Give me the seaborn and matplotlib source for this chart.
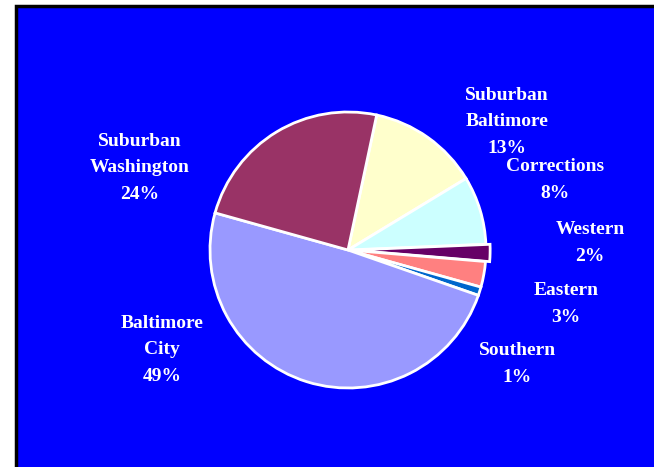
import matplotlib
matplotlib.use("Agg")
import matplotlib.pyplot as plt
import seaborn as sns
from matplotlib.patches import Rectangle

# slices in clockwise order, starting at the top
regions = ["Suburban\nBaltimore", "Corrections", "Western", "Eastern",
           "Southern", "Baltimore\nCity", "Suburban\nWashington"]
shares = [13, 8, 2, 3, 1, 49, 24]
colors = ["#FFFFCC", "#CCFFFF", "#660066", "#FF8080",
          "#0066CC", "#9999FF", "#993366"]
explode = [0, 0, 0.03, 0, 0, 0, 0]

# label centres in pixels (x, y from top)
label_pos = [(507, 122), (555, 180), (590, 243), (566, 304),
             (517, 364), (162, 350), (140, 168)]

sns.set_style("white")
plt.rcParams["font.family"] = ["Liberation Serif", "DejaVu Serif"]

W, H = 654, 467
fig = plt.figure(figsize=(W / 100, H / 100), dpi=100)
fig.patch.set_facecolor("white")

# blue chart area with a black frame
fig.patches.append(Rectangle((16 / W, -0.01), 1.0, 1 - 6 / H + 0.01,
                             transform=fig.transFigure, facecolor="#0000FF",
                             edgecolor="black", linewidth=2.5, zorder=-5))

cx, cy, r = 348, 250, 138
ax = fig.add_axes([(cx - r) / W, (H - cy - r) / H, 2 * r / W, 2 * r / H])
wedges, _ = ax.pie(shares, colors=colors, explode=explode, startangle=78,
                   counterclock=False,
                   wedgeprops={"edgecolor": "white", "linewidth": 2})
for w in wedges:
    w.set_clip_on(False)
ax.set_xlim(-1, 1)
ax.set_ylim(-1, 1)
ax.set_aspect("auto")
ax.axis("off")

for name, val, (px, py) in zip(regions, shares, label_pos):
    fig.text(px / W, 1 - py / H, f"{name}\n{val}%", color="white",
             fontsize=14, fontweight="bold", ha="center", va="center",
             multialignment="center", linespacing=1.75)

fig.savefig("out.png", dpi=100)
